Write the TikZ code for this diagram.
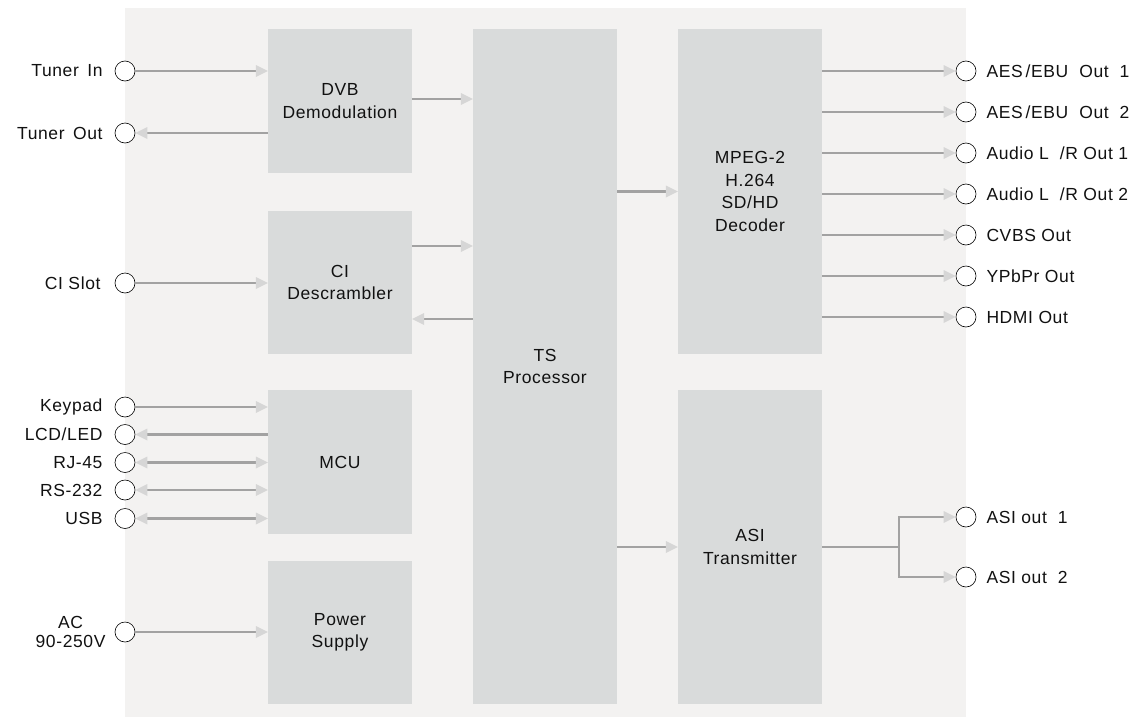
\documentclass[tikz,border=0pt]{standalone}
\usepackage{fontspec}
\newfontfamily\diafont[LetterSpace=3.5]{Liberation Sans}
\usetikzlibrary{arrows.meta}

\definecolor{panelgrey}{HTML}{F3F2F1}
\definecolor{blockgrey}{HTML}{D9DBDB}
\definecolor{wiregrey}{HTML}{A2A2A2}
\definecolor{tipgrey}{HTML}{D6D6D6}
\definecolor{inkgrey}{HTML}{111111}

\tikzset{
  blockbox/.style={fill=blockgrey, minimum width=144pt, inner sep=0pt, align=center,
    text=inkgrey, font=\diafont\fontsize{17.5}{22.5}\selectfont},
  port/.style={circle, draw=black, line width=0.6pt, fill=white, minimum size=20pt, inner sep=0pt},
  wire/.style={draw=wiregrey, line width=2.5pt},
  sig/.style={wire, -{Triangle[length=12pt, width=12pt, line width=0pt, color=tipgrey]}},
  bisig/.style={wire, {Triangle[length=12pt, width=12pt, line width=0pt, color=tipgrey]}-{Triangle[length=12pt, width=12pt, line width=0pt, color=tipgrey]}},
  every label/.style={inner sep=0pt, text=inkgrey, font=\diafont\fontsize{17.5}{18.5}\selectfont},
}

\begin{document}
\begin{tikzpicture}[x=1pt, y=-1pt]
    \useasboundingbox (0,0) rectangle (1144,718);

    % ---------------- PANEL ----------------
    \fill[panelgrey] (125,8) rectangle (966,717);

    % ---------------- BLOCKS ----------------
    \node[blockbox, minimum height=144pt] (dvb) at (340,101) {DVB\\Demodulation};
    \node[blockbox, minimum height=143pt] (ci) at (340,282.5) {CI\\Descrambler};
    \node[blockbox, minimum height=144pt] (mcu) at (340,462) {MCU};
    \node[blockbox, minimum height=143pt] (psu) at (340,632.5) {Power\\Supply};
    \node[blockbox, minimum height=675pt] (ts) at (545,366.5) {TS\\Processor};
    \node[blockbox, minimum height=325pt] (mpeg) at (750,191.5) {MPEG-2\\H.264\\SD/HD\\Decoder};
    \node[blockbox, minimum height=314pt] (asi) at (750,547) {ASI\\Transmitter};

    % ---------------- LEFT PORTS ----------------
    \node[port, label={[label distance=12pt]left:Tuner\ \,In}] (tin) at (125,71) {};
    \node[port, label={[label distance=12pt]left:Tuner\ \,Out}] (tout) at (125,133) {};
    \node[port, label={[label distance=14pt]left:CI Slot}] (cislot) at (125,283) {};
    \node[port, label={[label distance=12pt]left:Keypad}] (keypad) at (125,407) {};
    \node[port, label={[label distance=12pt]left:LCD/LED}] (lcd) at (125,434.5) {};
    \node[port, label={[label distance=12pt]left:RJ-45}] (rj) at (125,462.5) {};
    \node[port, label={[label distance=12pt]left:RS-232}] (rs) at (125,490) {};
    \node[port, label={[label distance=12pt]left:USB}] (usb) at (125,518.5) {};
    \node[port, label={[label distance=9pt, align=center]left:AC\\90-250V}] (ac) at (125,632) {};

    % ---------------- RIGHT PORTS ----------------
    \foreach \n/\y/\t in {aes1/71/{AES\,/EBU\ \ Out\ \ 1}, aes2/112/{AES\,/EBU\ \ Out\ \ 2},
        aud1/153/{Audio L\ \ /R Out 1}, aud2/194/{Audio L\ \ /R Out 2},
        cvbs/235/{CVBS Out}, ypbpr/276/{YPbPr Out}, hdmi/317/{HDMI Out},
        asi1/517/{ASI out\ \ 1}, asi2/577/{ASI out\ \ 2}}
      \node[port, label={[label distance=10pt]right:\t}] (\n) at (966,\y) {};

    % ---------------- CONNECTORS ----------------
    \draw[sig] (tin) -- (tin -| dvb.west);
    \draw[sig] (tout -| dvb.west) -- (tout);
    \draw[sig] (cislot) -- (cislot -| ci.west);
    \draw[sig] (keypad) -- (keypad -| mcu.west);
    \draw[sig] (lcd -| mcu.west) -- (lcd);
    \foreach \p in {rj,rs,usb}
      \draw[bisig] (\p) -- (\p -| mcu.west);
    \draw[sig] (ac) -- (ac -| psu.west);

    \draw[sig] ([yshift=2pt]dvb.east) -- ([yshift=2pt]dvb.east -| ts.west);
    \draw[sig] ([yshift=36.5pt]ci.east) -- ([yshift=36.5pt]ci.east -| ts.west);
    \draw[sig] ([yshift=-36.5pt]ci.east -| ts.west) -- ([yshift=-36.5pt]ci.east);
    \draw[sig] (mpeg.west -| ts.east) -- (mpeg.west);
    \draw[sig] (asi.west -| ts.east) -- (asi.west);

    \foreach \p in {aes1,aes2,aud1,aud2,cvbs,ypbpr,hdmi}
      \draw[sig] (\p -| mpeg.east) -- (\p);

    % ASI fork
    \draw[wire] (asi.east) -- ++(77,0) coordinate (asifork);
    \draw[sig] (asifork) |- (asi1);
    \draw[sig] (asifork) |- (asi2);
\end{tikzpicture}
\end{document}
